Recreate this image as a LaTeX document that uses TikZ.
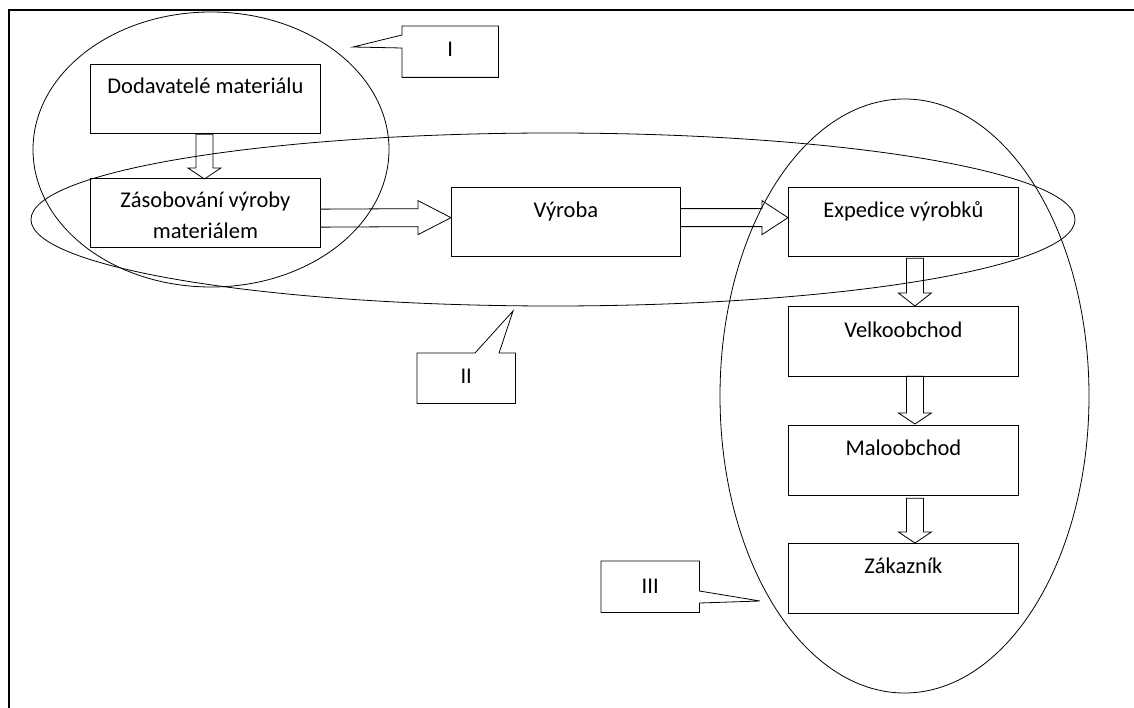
\documentclass[tikz,border=0pt]{standalone}
\usepackage{fontspec}
\setmainfont{Carlito}
\usetikzlibrary{calc,shapes.geometric}

% horizontal block arrow: start of shaft, tip, head length
\newcommand\hblk[3]{%
  \coordinate (hS) at (#1);
  \coordinate (hT) at (#2);
  \draw[blk] ($(hS)+(0,-9)$) -- ($(hT)+(-#3,-9)$) -- ($(hT)+(-#3,-17)$) -- (hT)
    -- ($(hT)+(-#3,17)$) -- ($(hT)+(-#3,9)$) -- ($(hS)+(0,9)$);}
% vertical block arrow: start of shaft, tip, head length
\newcommand\vblk[3]{%
  \coordinate (vS) at (#1);
  \coordinate (vT) at (#2);
  \draw[blk] ($(vS)+(-8.5,0)$) -- ($(vT)+(-8.5,-#3)$) -- ($(vT)+(-16.5,-#3)$) -- (vT)
    -- ($(vT)+(16.5,-#3)$) -- ($(vT)+(8.5,-#3)$) -- ($(vS)+(8.5,0)$) -- cycle;}

\begin{document}
\begin{tikzpicture}[x=1pt,y=-1pt,
  stagebox/.style={draw, line width=0.8pt, minimum width=230pt, minimum height=69.5pt,
    inner sep=0pt, anchor=north west},
  lbl/.style={anchor=base, align=center, inner sep=0pt,
    font=\fontsize{22.5}{31}\selectfont},
  blk/.style={draw, line width=0.8pt, line join=miter},
  ring/.style={draw, ellipse, line width=0.8pt, inner sep=0pt},
  tagbox/.style={inner sep=0pt, anchor=north west},
  tagline/.style={draw, line width=0.8pt, line join=miter}]

\useasboundingbox (0,0) rectangle (1134,708);

% page frame (top and left edges)
\draw[line width=1.6pt] (9,708) -- (9,10) -- (1134,10);

% stages of the chain
\node[stagebox] (dod) at (90,64)   {};
\node[stagebox] (zas) at (90,178)  {};
\node[stagebox, minimum width=229pt] (vyr) at (451,187) {};
\node[stagebox] (exp) at (788,187) {};
\node[stagebox] (vel) at (788,306) {};
\node[stagebox] (mal) at (788,425) {};
\node[stagebox] (zak) at (788,543) {};

\node[lbl] (tdod) at ($(dod.north)+(0,30)$) {Dodavatelé materiálu};
\node[lbl] (tzas) at ($(zas.north)+(0,61)$) {Zásobování výroby\\materiálem};
\node[lbl] (tvyr) at ($(vyr.north)+(0,31)$) {Výroba};
\node[lbl] (texp) at ($(exp.north)+(0,31)$) {Expedice výrobků};
\node[lbl] (tvel) at ($(vel.north)+(0,31)$) {Velkoobchod};
\node[lbl] (tmal) at ($(mal.north)+(0,30)$) {Maloobchod};
\node[lbl] (tzak) at ($(zak.north)+(0,30)$) {Zákazník};

% flow between the stages
\vblk{$(dod.south)+(-1,0)$}{$(zas.north)+(-1,1)$}{11}
\hblk{$(zas.east)+(0,5)$}{$(vyr.west)+(0,-4.5)$}{33}
\hblk{$(vyr.east)+(0,-4.5)$}{$(exp.west)+(0,-4.5)$}{26}
\vblk{$(exp.south)+(11.5,1)$}{$(vel.north)+(11.5,0)$}{13}
\vblk{$(vel.south)+(11.5,0)$}{$(mal.north)+(11.5,-1)$}{11}
\vblk{$(mal.south)+(11.5,3)$}{$(zak.north)+(11.5,0)$}{11}

% zones
\node[ring, minimum width=356pt, minimum height=275pt]  (zoneI)   at (211,149.5) {};
\node[ring, minimum width=1044pt, minimum height=173pt] (zoneII)  at (553,219.5) {};
\node[ring, minimum width=369pt, minimum height=594pt]  (zoneIII) at (904.5,396) {};

% zone tags
\node[tagbox, minimum width=96pt, minimum height=51pt] (cI) at (402,26) {};
\coordinate (tipI) at (353,47);
\draw[tagline] (cI.north west) -- (cI.north east) -- (cI.south east) -- (cI.south west)
  -- ($(cI.north west)+(0,22)$) -- (tipI) -- ($(cI.north west)+(0,9)$) -- cycle;
\node[lbl] (tI) at ($(cI.north)+(0,31)$) {I};

\node[tagbox, minimum width=98pt, minimum height=50pt] (cII) at (417,353) {};
\coordinate (tipII) at (513,311);
\draw[tagline] (cII.north west) -- ($(cII.north west)+(58,0)$) -- (tipII)
  -- ($(cII.north west)+(82,0)$) -- (cII.north east) -- (cII.south east)
  -- (cII.south west) -- cycle;
\node[lbl] (tII) at ($(cII.north)+(0,30)$) {II};

\node[tagbox, minimum width=98pt, minimum height=51pt] (cIII) at (601,561) {};
\coordinate (tipIII) at (760,601);
\draw[tagline] (cIII.north west) -- (cIII.north east) -- ($(cIII.north east)+(0,30)$)
  -- (tipIII) -- ($(cIII.north east)+(0,42)$) -- (cIII.south east)
  -- (cIII.south west) -- cycle;
\node[lbl] (tIII) at ($(cIII.north)+(0,32)$) {III};

\end{tikzpicture}
\end{document}
